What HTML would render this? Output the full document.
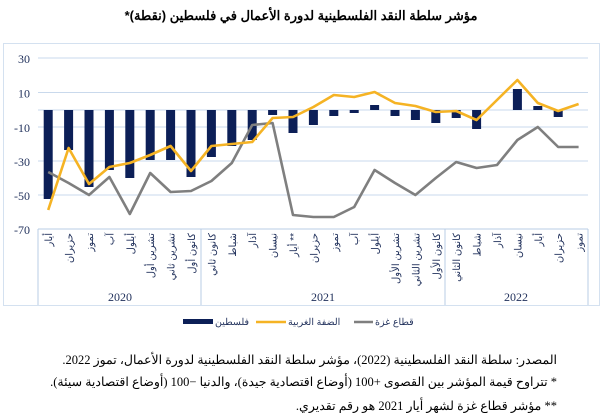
<!DOCTYPE html>
<html><head><meta charset="utf-8"><style>
body{margin:0;width:601px;height:419px;background:#fff;overflow:hidden;font-family:"Liberation Serif","Noto Sans CJK SC",serif}
svg{position:absolute;left:0;top:0}
.n{position:absolute;right:44px;direction:rtl;font-size:12.5px;color:#000;white-space:nowrap}
</style></head><body>
<svg id="s" width="601" height="419" xmlns="http://www.w3.org/2000/svg"></svg>
<div class="n" style="top:352px">المصدر: سلطة النقد الفلسطينية (2022)، مؤشر سلطة النقد الفلسطينية لدورة الأعمال، تموز 2022.</div>
<div class="n" style="top:374px">* تتراوح قيمة المؤشر بين القصوى +100 (أوضاع اقتصادية جيدة)، والدنيا −100 (أوضاع اقتصادية سيئة).</div>
<div class="n" style="top:398px">** مؤشر قطاع غزة لشهر أيار 2021 هو رقم تقديري.</div>
<script>
const s=document.getElementById('s');let h='';
h+='<text x="301" y="20" direction="rtl" text-anchor="middle" font-family="Liberation Sans,sans-serif" font-weight="bold" font-size="13" fill="#000">مؤشر سلطة النقد الفلسطينية لدورة الأعمال في فلسطين (نقطة)*</text>';
h+='<rect x="3.5" y="43.5" width="596" height="262" fill="none" stroke="#d4e1f0"/>';
const gy=[58,92.5,127,161,195,229];const gl=['30','10','-10','-30','-50','-70'];
gy.forEach((y,i)=>{h+=`<line x1="38" x2="588" y1="${y}" y2="${y}" stroke="#c9d9ec" stroke-width="1"/>`;h+=`<text x="30" y="${y+5}" text-anchor="end" font-size="12" fill="#1f2f5a">${gl[i]}</text>`});
h+='<line x1="38" x2="588" y1="110" y2="110" stroke="#c9d9ec"/>';
h+='<line x1="38" x2="588" y1="229" y2="229" stroke="#b8cce4"/>';
[38,201,445,588].forEach(x=>{h+=`<line x1="${x}" x2="${x}" y1="229" y2="305" stroke="#b8cce4"/>`});
const X=i=>48.2+20.4*i;
const bars=[199,150,187,170,178,160,160,177,157,146,140,115,133,125,116,113,105,116,120,123,118,129,110,89,106,117,110];
bars.forEach((y,i)=>{const t=Math.min(y,110),b=Math.max(y,110);if(b-t>0.5)h+=`<rect x="${X(i)-4.5}" y="${t}" width="9" height="${b-t}" fill="#0c1f57"/>`});
const yl=[210,148,184,167,163,155,146,171,146,144,142,118,117,107,95,97,92,103,106,112,111,120,100,80,103,111,104];
const gr=[172,183,195,177,214,173,192,191,181,163,125,123,215,217,217,207,170,183,195,178,162,168,165,140,127,147,147];
const pl=(a,c)=>`<polyline fill="none" stroke="${c}" stroke-width="2.6" stroke-linejoin="round" points="${a.map((y,i)=>X(i).toFixed(1)+','+y).join(' ')}"/>`;
h+=pl(gr,'#7f7f7f');h+=pl(yl,'#f5b324');
const lab=['أيار','حزيران','تموز','آب','أيلول','تشرين أول','تشرين ثاني','كانون أول','كانون ثاني','شباط','آذار','نيسان','أيار **','حزيران','تموز','آب','أيلول','تشرين الأول','تشرين الثاني','كانون الأول','كانون الثاني','شباط','آذار','نيسان','أيار','حزيران','تموز'];
lab.forEach((t,i)=>{const x=X(i)+4,y=233;h+=`<text x="${x}" y="${y}" transform="rotate(-90 ${x} ${y})" text-anchor="end" font-family="Liberation Sans,sans-serif" font-size="10" fill="#1f2f5a">${t}</text>`});
[['2020',120],['2021',323],['2022',516]].forEach(a=>{h+=`<text x="${a[1]}" y="301" text-anchor="middle" font-size="12" fill="#1f2f5a">${a[0]}</text>`});
h+='<rect x="183" y="319" width="30" height="5" fill="#0c1f57"/><text x="215" y="325" text-anchor="start" font-family="Liberation Sans,sans-serif" font-size="9.5" fill="#1f2f5a">فلسطين</text>';
h+='<line x1="256" x2="286" y1="322" y2="322" stroke="#f5b324" stroke-width="2.5"/><text x="288" y="325" text-anchor="start" font-family="Liberation Sans,sans-serif" font-size="9.5" fill="#1f2f5a">الضفة الغربية</text>';
h+='<line x1="354" x2="373" y1="322" y2="322" stroke="#7f7f7f" stroke-width="2.5"/><text x="375" y="325" text-anchor="start" font-family="Liberation Sans,sans-serif" font-size="9.5" fill="#1f2f5a">قطاع غزة</text>';
s.innerHTML=h;
</script>
</body></html>
